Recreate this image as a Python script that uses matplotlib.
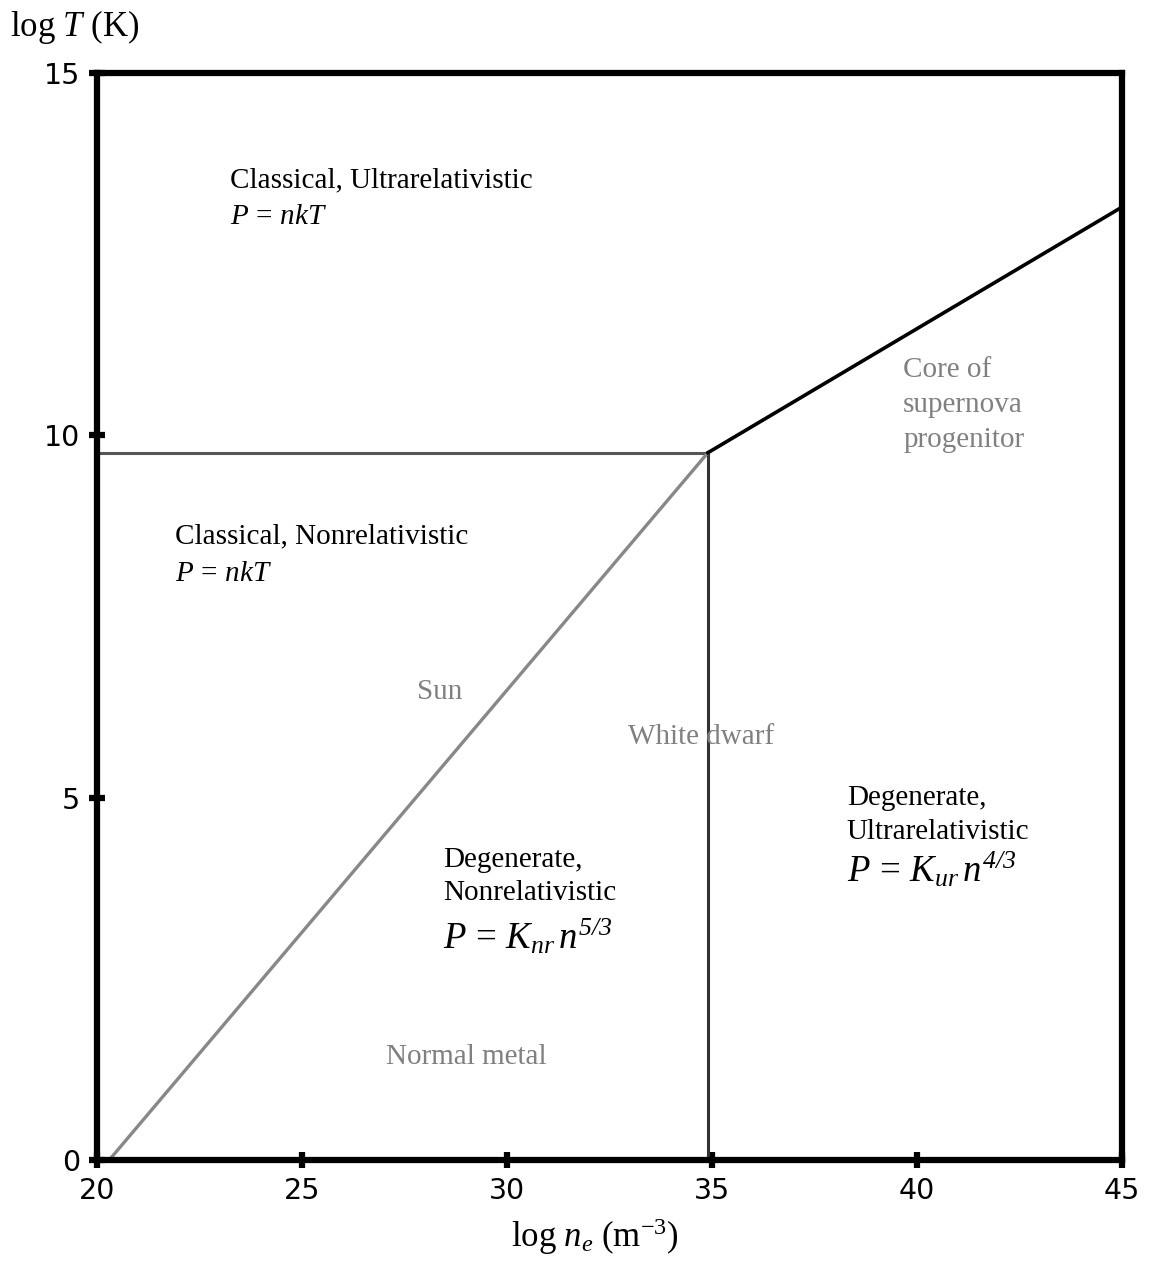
import matplotlib
matplotlib.use("Agg")
import matplotlib.pyplot as plt

plt.rcParams['mathtext.fontset'] = 'custom'
plt.rcParams['mathtext.rm'] = 'Liberation Serif'
plt.rcParams['mathtext.it'] = 'Liberation Serif:italic'
plt.rcParams['mathtext.bf'] = 'Liberation Serif:bold'
plt.rcParams['mathtext.cal'] = 'Liberation Serif:italic'

# Boundary data (log n_e, log T)
nr_n = [20.3, 34.9]          # classical / degenerate nonrelativistic boundary
nr_T = [0.0, 9.76]
ur_n = [34.9, 45.0]          # classical / degenerate ultrarelativistic boundary
ur_T = [9.76, 13.15]
rel_T = 9.76                 # relativistic temperature threshold
rel_n = 34.9                 # relativistic density threshold
x_ticks = [20, 25, 30, 35, 40, 45]
y_ticks = [0, 5, 10, 15]

fig = plt.figure(figsize=(11.5, 12.85), dpi=100)
ax = fig.add_axes([0.0843, 0.0973, 0.9757 - 0.0843, 0.9432 - 0.0973])
ax.set_xlim(20, 45)
ax.set_ylim(0, 15)

ax.plot([20, rel_n], [rel_T, rel_T], color='#555555', lw=2.2, solid_capstyle='butt')
ax.plot([rel_n, rel_n], [0, rel_T], color='#333333', lw=2.2, solid_capstyle='butt')
ax.plot(nr_n, nr_T, color='#888888', lw=2.4)
ax.plot(ur_n, ur_T, color='black', lw=2.6)

for s in ax.spines.values():
    s.set_linewidth(4.5)
ax.set_xticks(x_ticks)
ax.set_yticks(y_ticks)
ax.tick_params(direction='inout', length=12, width=4.5, labelsize=20.5, pad=6)
for lab in ax.get_xticklabels() + ax.get_yticklabels():
    lab.set_family('DejaVu Sans')

serif = 'Liberation Serif'
fs = 21
grey = '#808080'
ax.text(23.24, 13.52, 'Classical, Ultrarelativistic', family=serif, fontsize=fs, va='center')
ax.text(23.24, 13.02, r'$P\,=\,nkT$', fontsize=fs, va='center')
ax.text(21.9, 8.61, 'Classical, Nonrelativistic', family=serif, fontsize=fs, va='center')
ax.text(21.9, 8.10, r'$P\,=\,nkT$', fontsize=fs, va='center')
ax.text(28.37, 6.46, 'Sun', family=serif, fontsize=fs, color=grey, ha='center', va='center')
ax.text(32.95, 5.84, 'White dwarf', family=serif, fontsize=fs, color=grey, va='center')
ax.text(39.66, 10.90, 'Core of', family=serif, fontsize=fs, color=grey, va='center')
ax.text(39.66, 10.42, 'supernova', family=serif, fontsize=fs, color=grey, va='center')
ax.text(39.66, 9.93, 'progenitor', family=serif, fontsize=fs, color=grey, va='center')
ax.text(28.44, 4.14, 'Degenerate,', family=serif, fontsize=fs, va='center')
ax.text(28.44, 3.68, 'Nonrelativistic', family=serif, fontsize=fs, va='center')
ax.text(28.44, 3.08, r'$P\,=\,K_{nr}\,n^{\mathcal{5/3}}$', fontsize=26.5, va='center')
ax.text(38.29, 5.00, 'Degenerate,', family=serif, fontsize=fs, va='center')
ax.text(38.29, 4.53, 'Ultrarelativistic', family=serif, fontsize=fs, va='center')
ax.text(38.29, 4.00, r'$P\,=\,K_{ur}\,n^{\mathcal{4/3}}$', fontsize=26.5, va='center')
ax.text(29.0, 1.42, 'Normal metal', family=serif, fontsize=fs, color=grey, ha='center', va='center')

fig.text(10 / 1150, 1 - 27 / 1285, r'$\mathrm{log}\ T\ \mathrm{(K)}$', fontsize=25, va='center', ha='left')
fig.text(595 / 1150, 1 - 1237 / 1285, r'$\mathrm{log}\ n_e\ \mathrm{(m^{-3})}$', fontsize=25, va='center', ha='center')

fig.savefig('out.png', dpi=100)
